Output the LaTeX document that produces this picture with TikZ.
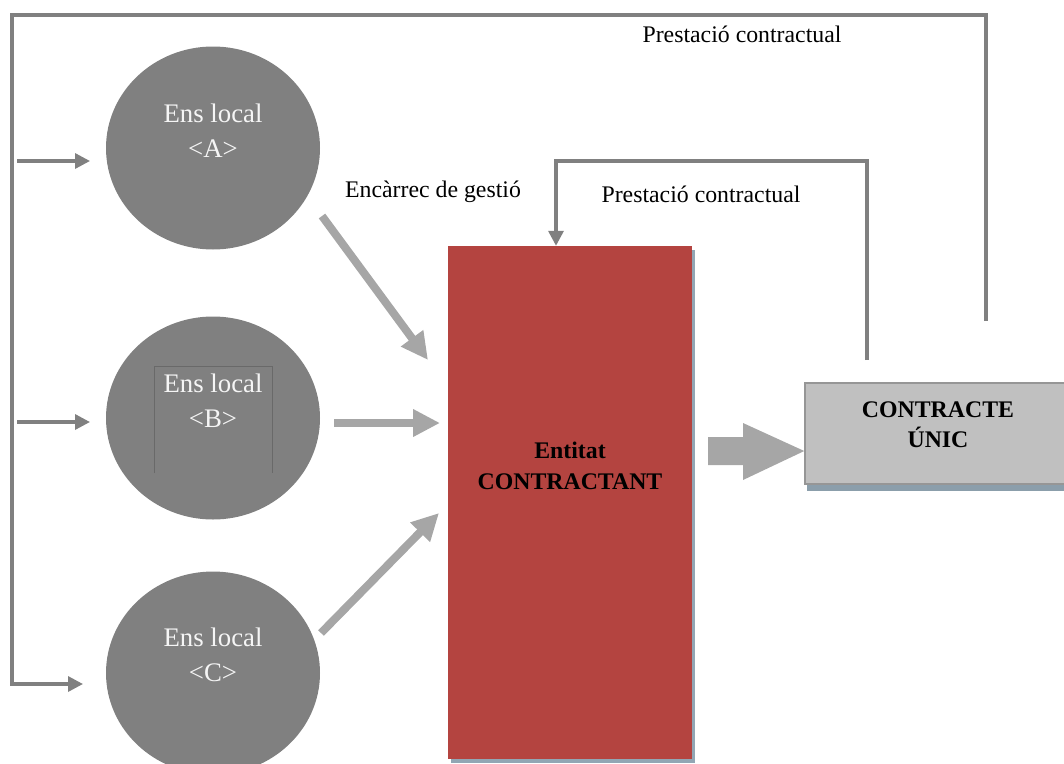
\documentclass[tikz,border=0pt]{standalone}
\usepackage{fontspec}
\setmainfont{Liberation Serif}
\usetikzlibrary{arrows.meta,shapes.geometric,shadows}
\definecolor{localgray}{RGB}{128,128,128}
\definecolor{flowgray}{RGB}{166,166,166}
\definecolor{entred}{RGB}{180,68,64}
\definecolor{shadowblue}{RGB}{146,166,180}
\definecolor{boxgray}{RGB}{192,192,192}
\definecolor{boxedge}{RGB}{150,150,150}
\definecolor{frameline}{RGB}{105,105,105}

\begin{document}
\begin{tikzpicture}[x=1pt,y=-1pt,
  ens/.style={ellipse, fill=localgray, minimum width=214pt, minimum height=203pt, inner sep=0pt},
  enstext/.style={text=white!96!black, font=\fontsize{26.8}{35}\selectfont, align=center, inner sep=0pt},
  caption/.style={font=\fontsize{23.8}{28}\selectfont, inner sep=0pt},
  boldtext/.style={font=\bfseries\fontsize{23.8}{30.5}\selectfont, align=center, inner sep=0pt},
  flow/.style={draw=flowgray, line width=8pt, -{Triangle[width=26pt,length=27pt]}},
  link/.style={draw=localgray, line width=3.3pt, line join=miter},
  linktip/.style={link, -{Triangle[width=15pt,length=15pt]}}]

\useasboundingbox (0,0) rectangle (1064,763);
\clip (0,0) rectangle (1064,763);

% local bodies
\node[ens] (A) at (213,148) {};
\node[ens] (B) at (213,418) {};
\node[ens] (C) at (213,673) {};
\node[enstext] (At) at (213,130.5) {Ens local\\<A>};
\node[enstext] (Bt) at (213,400.5) {Ens local\\<B>};
\node[enstext] (Ct) at (213,654.5) {Ens local\\<C>};
% thin frame inside B
\draw[frameline, line width=0.8pt] (154,473) -- (154,366) -- (272,366) -- (272,473);

% contracting entity
\node[rectangle, fill=entred, minimum width=244pt, minimum height=513pt, inner sep=0pt,
      drop shadow={shadow xshift=3pt, shadow yshift=-4pt, fill=shadowblue, opacity=1}]
      (E) at (570,502.5) {};
\node[boldtext] (Et) at (570,466) {Entitat\\CONTRACTANT};

% single contract
\node[rectangle, draw=boxedge, line width=1.5pt, fill=boxgray, minimum width=266pt,
      minimum height=101pt, inner sep=0pt,
      drop shadow={shadow xshift=2pt, shadow yshift=-7pt, fill=shadowblue!95!black, opacity=1}]
      (K) at (938,433.5) {};
\node[boldtext] (Kt) at (938,424.5) {CONTRACTE\\ÚNIC};

% block arrow from entity to contract
\fill[flowgray] (708,437) -- (743,437) -- (743,423) -- (K.west |- 0,451) -- (743,480)
      -- (743,465) -- (708,465) -- cycle;

% commissioning arrows
\coordinate (a0) at (322,216);  \coordinate (a1) at (428,360);
\coordinate (b0) at (334,423);  \coordinate (b1) at (440,423);
\coordinate (c0) at (321,633);  \coordinate (c1) at (439,513);
\draw[flow] (a0) -- (a1);
\draw[flow] (b0) -- (b1);
\draw[flow] (c0) -- (c1);

% outer feedback loop
\coordinate (o0) at (986,321);
\coordinate (otr) at (986,15);
\coordinate (otl) at (12,15);
\coordinate (obl) at (12,684);
\coordinate (oc) at (83,684);
\draw[linktip] (o0) -- (otr) -- (otl) -- (obl) -- (oc);
\coordinate (oa0) at (17,161);  \coordinate (oa1) at (90,161);
\coordinate (ob0) at (17,422);  \coordinate (ob1) at (90,422);
\draw[linktip] (oa0) -- (oa1);
\draw[linktip] (ob0) -- (ob1);

% inner feedback loop
\coordinate (i0) at (867,360);
\coordinate (itr) at (867,161);
\coordinate (itl) at (556,161);
\draw[linktip] (i0) -- (itr) -- (itl) -- (E.north -| itl);

% labels
\node[caption] (L1) at (742,34) {Prestació contractual};
\node[caption] (L2) at (433,192) {Encàrrec de gestió};
\node[caption] (L3) at (701,194) {Prestació contractual};
\end{tikzpicture}
\end{document}
